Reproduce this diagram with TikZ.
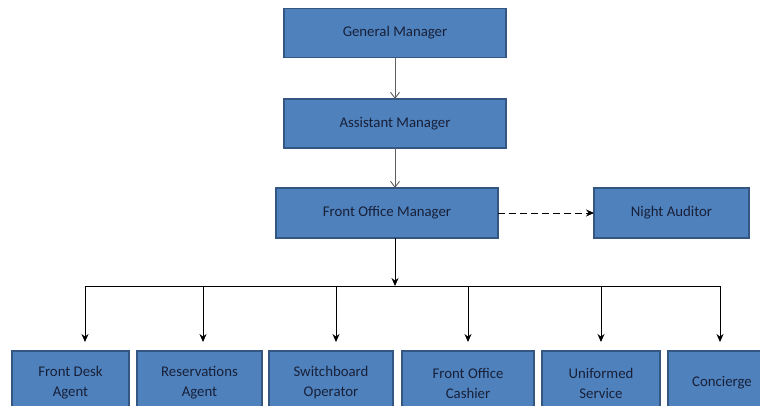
\documentclass[tikz,border=0pt]{standalone}
\usepackage{fontspec}
\setmainfont{Carlito}
\usepackage{tikz}
\usetikzlibrary{arrows.meta}
\definecolor{boxc}{RGB}{79,129,189}
\definecolor{edgec}{RGB}{52,86,130}
\definecolor{textc}{RGB}{24,32,56}
\definecolor{grey}{RGB}{95,95,95}

\begin{document}
\begin{tikzpicture}[x=1pt,y=-1pt,
  every node/.style={font=\fontsize{14.8}{20}\selectfont},
  post/.style={draw=edgec, fill=boxc, line width=1.3pt, text=textc, align=center, inner sep=0pt, outer sep=0pt},
  tip/.style={-{Stealth[length=8pt,width=7pt]}, line width=0.9pt, black},
  vtip/.style={-{Straight Barb[length=6pt,width=9pt]}, line width=0.9pt, grey}]
  \useasboundingbox (0,0) rectangle (760,405);
  \clip (0,0) rectangle (760,405);
  % top of the chart
  \node[post, minimum width=222pt, minimum height=49pt] (gm) at (395,33) {General Manager};
  \node[post, minimum width=222pt, minimum height=49pt] (am) at (395,123.5) {Assistant Manager};
  \node[post, minimum width=222pt, minimum height=50pt] (fom) at (387,213) {Front Office Manager};
  \node[post, minimum width=155pt, minimum height=50pt] (na) at (671.5,213) {Night Auditor};
  \draw[vtip] (gm) -- (am);
  \draw[vtip] (am.south) -- (am.south |- fom.north);
  \draw[tip, dashed, dash pattern=on 7pt off 4pt] (fom.east) -- (na.west);
  % bus
  \coordinate (bus) at (395,286);
  \draw[tip] (fom.south -| bus) -- (bus);
  \foreach \i/\x in {1/85,2/203,3/336,4/468,5/601,6/720} { \coordinate (t\i) at (\x,286); }
  \draw[line width=0.9pt] (t1) -- (t6);
  % staff
  \foreach \i/\x/\w/\t in {1/70.5/117/{Front Desk\\Agent},2/199.5/125/{Reservations\\Agent},
      3/331/124/{Switchboard\\Operator},4/468/132/{Front Office\\Cashier},
      5/601/118/{Uniformed\\Service},6/722/108/{Concierge}} {
    \node[post, minimum width=\w pt, minimum height=64pt] (b\i) at (\x,383) {\t};
    \draw[tip, shorten >=9pt] (t\i) -- (t\i |- b\i.north);
  }
\end{tikzpicture}
\end{document}
